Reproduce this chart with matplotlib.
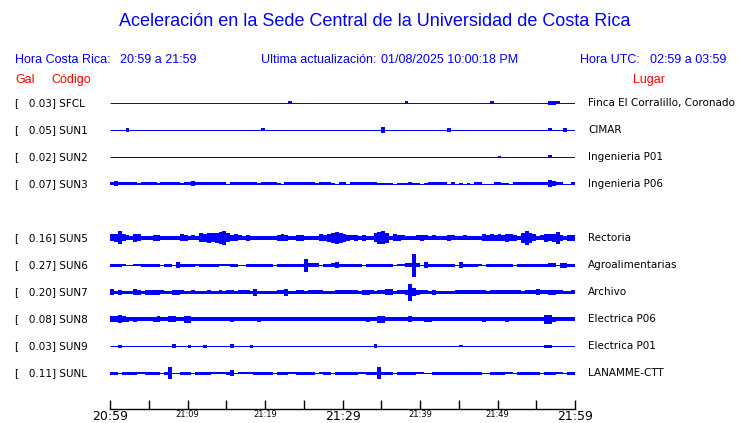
import matplotlib
matplotlib.use("Agg")

import matplotlib.pyplot as plt
import matplotlib.transforms as mtransforms
import numpy as np

W, H = 740, 423
ROW = 27

# stations, top to bottom (slot 4 is empty)
CODES = ["SFCL", "SUN1", "SUN2", "SUN3", "SUN5", "SUN6", "SUN7", "SUN8", "SUN9", "SUNL"]
GAL = [0.03, 0.05, 0.02, 0.07, 0.16, 0.27, 0.20, 0.08, 0.03, 0.11]
PLACES = ["Finca El Corralillo, Coronado", "CIMAR", "Ingenieria P01", "Ingenieria P06",
          "Rectoria", "Agroalimentarias", "Archivo", "Electrica P06", "Electrica P01",
          "LANAMME-CTT"]
SLOTS = [0, 1, 2, 3, 5, 6, 7, 8, 9, 10]

# background noise level of each trace
BASE = [1, 1, 1, 1, 4, 1, 3, 4, 1, 1]

# peak-to-peak envelope every 30 s (base-36 digits)
ENV = {
    "SFCL": "1111111111" "1111111111" "1111111111" "1111111111" "1111113111" "1111111111"
            "1111111111" "1111113111" "1111111111" "1111111131" "1111111111" "1114431111",
    "SUN1": "1111411111" "1111111111" "1111111111" "1111111113" "1111111111" "1111111111"
            "1111111111" "6111111111" "1111111411" "1111111111" "1111111111" "1113111411",
    "SUN2": "1111111111" "1111111111" "1111111111" "1111111111" "1111111111" "1111111111"
            "1111111111" "1111111111" "1111111111" "1111111111" "2111111111" "1113111111",
    "SUN3": "3533333233" "3323333323" "3533333333" "1333333323" "3332133333" "3332333213"
            "3133333332" "2221222322" "1233333131" "2121331113" "3221333333" "3337533113",
    "SUN5": "78d7548744" "4664444476" "45498a9ace" "9675464444" "4446764466" "4444768aca"
            "865646449c" "da47654445" "6545444654" "4544447676" "768764aea7" "45878c6466",
    "SUN6": "3332112233" "3331331633" "3323333322" "2331133333" "3313333333" "d444133463"
            "3333313333" "33312244n4" "1633333331" "6333321333" "3333133333" "3334415533",
    "SUN7": "6353336535" "5554335543" "3433343343" "4434443733" "3334473344" "3444433344"
            "4444355434" "4663445h85" "4435333334" "4444444344" "4444443444" "6445544334",
    "SUN8": "6686545444" "4564466447" "7444444444" "4544444454" "4444444444" "4444444444"
            "4444445447" "7444444644" "4554444444" "4444445444" "4454444444" "4499544444",
    "SUN9": "1131111111" "1111114111" "3111311111" "1411113111" "1111111111" "1111111111"
            "1111111141" "1111111111" "1111111111" "2111111111" "1111111111" "1133111111",
    "SUNL": "3313333223" "33313c1133" "3133332222" "3612222333" "3313332233" "3331233133"
            "333322333c" "3331333332" "2113333333" "3333331133" "3322133333" "3133322133",
}

TICK_MIN = list(range(0, 61, 5))
TICK_LABELS = ["20:59", "", "21:09", "", "21:19", "", "21:29", "", "21:39", "", "21:49", "", "21:59"]
BIG_LABELS = ["20:59", "21:29", "21:59"]

fig = plt.figure(figsize=(W / 100, H / 100), dpi=100)
ax = fig.add_axes([110 / W, 1 - 409 / H, 465 / W, 319 / H])
ax.set_xlim(0, 60)
ax.set_ylim(-306, 13)

for k, code in enumerate(CODES):
    y0 = -ROW * SLOTS[k]
    amp = np.array([int(c, 36) for c in ENV[code]], dtype=float)
    t = np.arange(len(amp)) * 0.5 + 0.25
    ax.plot([0, 60], [y0, y0], color="blue", lw=BASE[k] * 0.72, solid_capstyle="butt")
    m = amp > BASE[k]
    ax.bar(t[m], amp[m], width=0.5, bottom=y0 - amp[m] / 2, color="blue", linewidth=0)

# axis
for s in ["left", "right", "top"]:
    ax.spines[s].set_visible(False)
ax.spines["bottom"].set_linewidth(1)
ax.set_yticks([])
ax.set_xticks(TICK_MIN)
ax.set_xticklabels(TICK_LABELS)
ax.tick_params(axis="x", direction="in", length=6.5, width=1, pad=1)
for lab in ax.get_xticklabels():
    lab.set_family("DejaVu Sans")
    lab.set_fontsize(9 if lab.get_text() in BIG_LABELS else 6)

# station labels
trans = mtransforms.blended_transform_factory(fig.transFigure, ax.transData)
for k, code in enumerate(CODES):
    y0 = -ROW * SLOTS[k]
    ax.text(15 / W, y0, f"[   {GAL[k]:.2f}] {code}", transform=trans, ha="left", va="center",
            fontsize=7.5, family="DejaVu Sans", color="black")
    ax.text(588 / W, y0, PLACES[k], transform=trans, ha="left", va="center",
            fontsize=7.5, family="DejaVu Sans", color="black")

# header
hf = "Liberation Sans"
fig.text(375 / W, 1 - 22 / H, "Aceleración en la Sede Central de la Universidad de Costa Rica",
         ha="center", va="center", fontsize=13, family=hf, color="blue")
for x, s in [(15, "Hora Costa Rica:"), (120, "20:59 a 21:59"),
             (261, "Ultima actualización:"), (381, "01/08/2025 10:00:18 PM"),
             (580, "Hora UTC:"), (650, "02:59 a 03:59")]:
    fig.text(x / W, 1 - 60 / H, s, ha="left", va="center", fontsize=9, family=hf, color="blue")
for x, s in [(15, "Gal"), (51, "Código"), (633, "Lugar")]:
    fig.text(x / W, 1 - 80 / H, s, ha="left", va="center", fontsize=9, family=hf, color="red")

fig.savefig("out.png", dpi=100)
